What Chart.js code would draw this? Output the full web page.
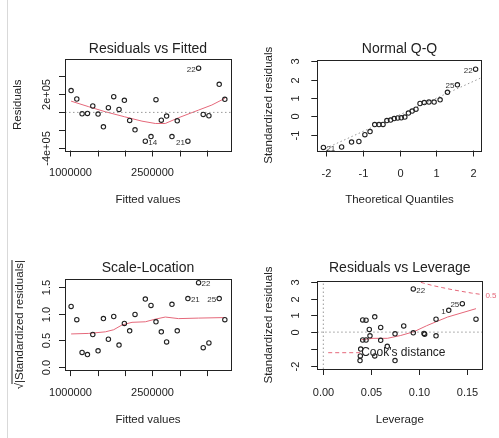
<!DOCTYPE html>
<html>
<head>
<meta charset="utf-8">
<script src="https://cdn.jsdelivr.net/npm/chart.js@4.4.1/dist/chart.umd.min.js"></script>
<style>
  body { margin: 0; background: #fff; }
  #wrap { position: relative; width: 499px; height: 438px; overflow: hidden; }
  #wrap canvas { position: absolute; }
  #edge { position: absolute; left: 7px; top: 0; width: 1px; height: 438px; background: #d9d9d9; }
</style>
</head>
<body>
<div id="wrap">
  <div id="edge"></div>
  <canvas id="rvf" width="250" height="219" style="left:0;top:0"></canvas>
  <canvas id="qq" width="250" height="219" style="left:249px;top:0"></canvas>
  <canvas id="sl" width="250" height="219" style="left:0;top:219px"></canvas>
  <canvas id="rvl" width="250" height="219" style="left:249px;top:219px"></canvas>
</div>
<script>
const FONT = '"Liberation Sans", Arial, Helvetica, sans-serif';
const INK = '#222';
const PINK = '#E5687A';
const GREY = '#9a9a9a';

// --- Residuals vs Fitted ---
const fittedValues = [1012000, 1116000, 1213000, 1311000, 1409000, 1506000, 1604000, 1695000, 1793000,
  1890000, 1988000, 2085000, 2183000, 2372000, 2476000, 2567000, 2665000, 2762000, 2860000, 2957000,
  3152000, 3348000, 3433000, 3537000, 3726000, 3829000];
const residuals = [242000, 149000, -15000, -11000, 71000, -19000, -160000, 52000, 175000, 33000,
  134000, -89000, -193000, -320000, -268000, 141000, -86000, -41000, -268000, -93000,
  -320000, 491000, -22000, -37000, 312000, 145000];
const rvfSmoothX = [1012000, 1335000, 1640000, 1988000, 2311000, 2555000, 2738000, 2982000, 3348000, 3591000, 3829000];
const rvfSmoothY = [125000, 63000, 7000, -48000, -97000, -123000, -123000, -59000, 26000, 82000, 156000];
const fittedTicks = [1000000, 1500000, 2000000, 2500000, 3000000, 3500000];
const fittedTickLabels = ['1000000', '', '', '2500000', '', ''];
const residTicks = [-400000, -200000, 0, 200000, 400000];
const residTickLabels = ['-4e+05', '', '', '2e+05', ''];

// --- Normal Q-Q ---
const theoreticalQuantiles = [-2.07, -1.575, -1.304, -1.105, -0.942, -0.801, -0.674, -0.558, -0.448,
  -0.344, -0.243, -0.145, -0.048, 0.048, 0.145, 0.243, 0.344, 0.448, 0.558, 0.674, 0.801, 0.942,
  1.105, 1.304, 1.575, 2.07];
const sortedStdResiduals = [-1.69, -1.67, -1.40, -1.37, -1.00, -0.83, -0.45, -0.45, -0.44, -0.23,
  -0.20, -0.12, -0.09, -0.08, -0.04, 0.18, 0.29, 0.39, 0.70, 0.75, 0.78, 0.78, 0.90, 1.31, 1.72, 2.57];
const qqLineX = [-2.3, 2.3];
const qqLineY = [-2.01, 2.17];
const qqXTicks = [-2, -1, 0, 1, 2];
const qqYTicks = [-1, 0, 1, 2, 3];

// --- Scale-Location ---
const sqrtAbsStdResid = [1.14, 0.89, 0.27, 0.23, 0.61, 0.30, 0.91, 0.52, 0.95, 0.41, 0.82, 0.68, 0.99,
  1.28, 1.16, 0.85, 0.66, 0.47, 1.18, 0.68, 1.29, 1.59, 0.36, 0.45, 1.29, 0.89];
const slSmoothX = [1012000, 1335000, 1640000, 1793000, 1945000, 2128000, 2372000, 2555000, 2738000, 2982000, 3348000, 3829000];
const slSmoothY = [0.62, 0.63, 0.66, 0.70, 0.79, 0.84, 0.85, 0.90, 0.94, 0.91, 0.92, 0.93];
const slYTicks = [0, 0.5, 1, 1.5];
const slYTickLabels = ['0.0', '0.5', '1.0', '1.5'];

// --- Residuals vs Leverage (first three: obs 22, 1, 25) ---
const leverage = [0.0941, 0.1312, 0.1454, 0.1597, 0.1179, 0.1179, 0.1053, 0.1060, 0.0941, 0.0841,
  0.0750, 0.0750, 0.0669, 0.0600, 0.0600, 0.0538, 0.0538, 0.0481, 0.0488, 0.0447, 0.0412, 0.0447,
  0.0412, 0.0391, 0.0387, 0.0384];
const stdResiduals = [2.58, 1.30, 1.70, 0.77, 0.77, -0.22, -0.08, -0.12, -0.04, 0.37, -0.10, -1.70,
  -0.85, 0.28, -0.49, 0.91, -1.42, 0.16, -0.22, 0.71, 0.73, -0.47, -0.47, -1.01, -1.42, -1.70];
const rvlSmoothX = [0.040, 0.052, 0.067, 0.081, 0.095, 0.108, 0.118, 0.130, 0.1597];
const rvlSmoothY = [-0.45, -0.37, -0.37, -0.20, 0.03, 0.38, 0.62, 0.90, 1.40];
const cooksX = [0.095, 0.105, 0.115, 0.125, 0.135, 0.145, 0.155, 0.1664];
const cooksY = [3.09, 2.92, 2.77, 2.65, 2.53, 2.43, 2.33, 2.24];
const levTicks = [0, 0.05, 0.10, 0.15];
const levTickLabels = ['0.00', '0.05', '0.10', '0.15'];
const rvlYTicks = [-2, -1, 0, 1, 2, 3];
const rvlYTickLabels = ['-2', '', '0', '1', '2', '3'];

function xy(xs, ys) {
  return xs.map((x, i) => ({ x, y: ys[i] }));
}

function points(xs, ys) {
  return {
    data: xy(xs, ys), showLine: false, pointRadius: 2.2, pointHoverRadius: 2.2,
    pointBorderWidth: 1.1, borderColor: INK, backgroundColor: 'rgba(0,0,0,0)'
  };
}

function line(xs, ys, color, dash) {
  return {
    data: xy(xs, ys), showLine: true, pointRadius: 0, borderWidth: 1,
    borderColor: color, borderDash: dash || [], fill: false, tension: 0
  };
}

// draws the R-style box, ticks, captions and point ids
const rFrame = {
  id: 'rFrame',
  afterDraw(chart, args, o) {
    const ctx = chart.ctx, a = chart.chartArea;
    const sx = chart.scales.x, sy = chart.scales.y;
    ctx.save();
    ctx.strokeStyle = INK;
    ctx.fillStyle = INK;
    ctx.lineWidth = 1;
    ctx.strokeRect(Math.round(a.left) + 0.5, Math.round(a.top) + 0.5,
      Math.round(a.right - a.left), Math.round(a.bottom - a.top));

    ctx.font = '11px ' + FONT;
    ctx.textAlign = 'center';
    ctx.textBaseline = 'middle';
    o.xTicks.forEach((v, i) => {
      const px = Math.round(sx.getPixelForValue(v)) + 0.5;
      ctx.beginPath(); ctx.moveTo(px, a.bottom); ctx.lineTo(px, a.bottom + 6); ctx.stroke();
      if (o.xTickLabels[i]) ctx.fillText(o.xTickLabels[i], px, o.xTickY);
    });
    o.yTicks.forEach((v, i) => {
      const py = Math.round(sy.getPixelForValue(v)) + 0.5;
      ctx.beginPath(); ctx.moveTo(a.left, py); ctx.lineTo(a.left - 6, py); ctx.stroke();
      if (o.yTickLabels[i]) {
        ctx.save();
        ctx.translate(46.7, py);
        ctx.rotate(-Math.PI / 2);
        ctx.fillText(o.yTickLabels[i], 0, 0);
        ctx.restore();
      }
    });

    ctx.font = '14px ' + FONT;
    ctx.fillText(o.title, (a.left + a.right) / 2, 49.5);

    ctx.font = '11.5px ' + FONT;
    ctx.fillText(o.xLabel, (a.left + a.right) / 2, o.xLabelY);
    ctx.save();
    ctx.translate(o.yLabelX, (a.top + a.bottom) / 2);
    ctx.rotate(-Math.PI / 2);
    if (o.sqrtLabel) {
      const w1 = ctx.measureText('√').width;
      const w2 = ctx.measureText(o.yLabel).width;
      const x0 = -(w1 + w2) / 2;
      ctx.textAlign = 'left';
      ctx.fillText('√', x0, 0);
      ctx.fillText(o.yLabel, x0 + w1, 0);
      ctx.beginPath();
      ctx.moveTo(x0 + w1 - 1, -7.5);
      ctx.lineTo(x0 + w1 + w2, -7.5);
      ctx.stroke();
    } else {
      ctx.fillText(o.yLabel, 0, 0);
    }
    ctx.restore();

    ctx.font = '8px ' + FONT;
    ctx.fillStyle = '#333';
    const meta = chart.getDatasetMeta(0);
    o.ids.forEach(p => {
      const el = meta.data[p.i];
      if (p.side === 'left') {
        ctx.textAlign = 'right';
        ctx.fillText(p.text, el.x - 3, el.y + 1.5);
      } else {
        ctx.textAlign = 'left';
        ctx.fillText(p.text, el.x + 3, el.y + 1.5);
      }
    });

    if (o.cooks) {
      const yEnd = sy.getPixelForValue(cooksY[cooksY.length - 1]);
      ctx.fillStyle = PINK;
      ctx.textAlign = 'left';
      ctx.fillText('0.5', a.right + 3, yEnd + 1);
      ctx.strokeStyle = PINK;
      ctx.setLineDash([4, 3]);
      const ly = a.bottom - 16.3;
      ctx.beginPath(); ctx.moveTo(a.left + 11, ly); ctx.lineTo(a.left + 43, ly); ctx.stroke();
      ctx.setLineDash([]);
      ctx.fillStyle = INK;
      ctx.font = '12px ' + FONT;
      ctx.fillText("Cook's distance", a.left + 44, ly);
    }
    ctx.restore();
  }
};

function makePanel(id, box, ranges, datasets, frame) {
  const W = 250, H = 219;
  return new Chart(document.getElementById(id), {
    type: 'scatter',
    data: { datasets },
    options: {
      responsive: false,
      animation: false,
      events: [],
      layout: { padding: { left: box[0], top: box[1], right: W - box[2], bottom: H - box[3] } },
      scales: {
        x: { type: 'linear', display: false, min: ranges[0], max: ranges[1] },
        y: { type: 'linear', display: false, min: ranges[2], max: ranges[3] }
      },
      plugins: { legend: { display: false }, tooltip: { enabled: false }, rFrame: frame }
    },
    plugins: [rFrame]
  });
}

makePanel('rvf', [65, 59, 231, 150.5], [900000, 3942000, -423000, 593000], [
  points(fittedValues, residuals),
  line([900000, 3942000], [0, 0], GREY, [1.5, 2.5]),
  line(rvfSmoothX, rvfSmoothY, PINK)
], {
  title: 'Residuals vs Fitted', xLabel: 'Fitted values', yLabel: 'Residuals',
  xTicks: fittedTicks, xTickLabels: fittedTickLabels, yTicks: residTicks, yTickLabels: residTickLabels,
  xTickY: 173, xLabelY: 200, yLabelX: 18,
  ids: [{ i: 13, text: '14', side: 'right' }, { i: 20, text: '21', side: 'left' }, { i: 21, text: '22', side: 'left' }]
});

makePanel('qq', [68.3, 60, 232.7, 150.5], [-2.236, 2.236, -1.86, 3.07], [
  points(theoreticalQuantiles, sortedStdResiduals),
  line(qqLineX, qqLineY, GREY, [1.5, 2.5])
], {
  title: 'Normal Q-Q', xLabel: 'Theoretical Quantiles', yLabel: 'Standardized residuals',
  xTicks: qqXTicks, xTickLabels: qqXTicks.map(String), yTicks: qqYTicks, yTickLabels: qqYTicks.map(String),
  xTickY: 174, xLabelY: 200, yLabelX: 19.5,
  ids: [{ i: 0, text: '21', side: 'right' }, { i: 24, text: '25', side: 'left' }, { i: 25, text: '22', side: 'left' }]
});

makePanel('sl', [65, 60.3, 231, 151.1], [900000, 3942000, -0.064, 1.654], [
  points(fittedValues, sqrtAbsStdResid),
  line(slSmoothX, slSmoothY, PINK)
], {
  title: 'Scale-Location', xLabel: 'Fitted values', yLabel: '|Standardized residuals|', sqrtLabel: true,
  xTicks: fittedTicks, xTickLabels: fittedTickLabels, yTicks: slYTicks, yTickLabels: slYTickLabels,
  xTickY: 174, xLabelY: 201, yLabelX: 19.5,
  ids: [{ i: 20, text: '21', side: 'right' }, { i: 21, text: '22', side: 'right' }, { i: 24, text: '25', side: 'left' }]
});

makePanel('rvl', [68.2, 62, 233.4, 150], [-0.0064, 0.1664, -2.2, 3.05], [
  points(leverage, stdResiduals),
  line([-0.0064, 0.1664], [0, 0], GREY, [1.5, 2.5]),
  line([0, 0], [-2.2, 3.05], GREY, [1.5, 2.5]),
  line(rvlSmoothX, rvlSmoothY, PINK),
  line(cooksX, cooksY, PINK, [4, 3])
], {
  title: 'Residuals vs Leverage', xLabel: 'Leverage', yLabel: 'Standardized residuals',
  xTicks: levTicks, xTickLabels: levTickLabels, yTicks: rvlYTicks, yTickLabels: rvlYTickLabels,
  xTickY: 174, xLabelY: 201, yLabelX: 19.5, cooks: true,
  ids: [{ i: 0, text: '22', side: 'right' }, { i: 1, text: '1', side: 'left' }, { i: 2, text: '25', side: 'left' }]
});
</script>
</body>
</html>
